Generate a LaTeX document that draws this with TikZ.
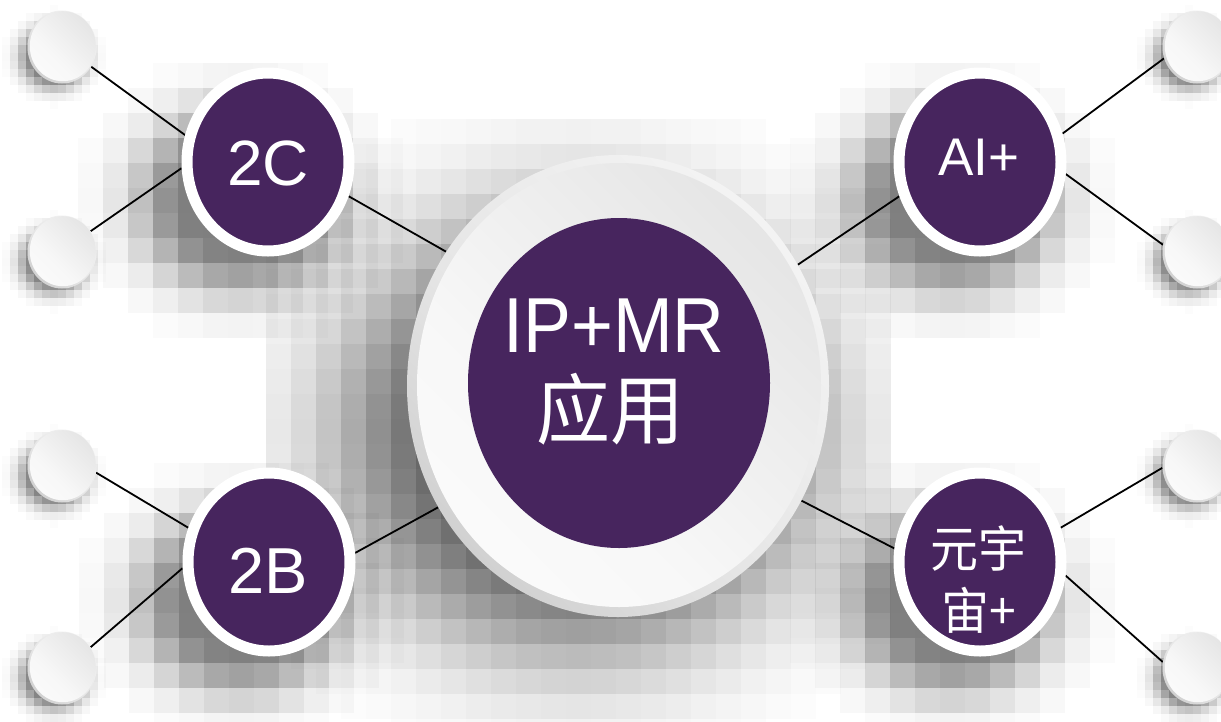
\documentclass[tikz,border=0pt]{standalone}
\usepackage{fontspec}
\setmainfont{Liberation Sans}
\newfontfamily\lat{Liberation Sans}
\newfontfamily\latn[FakeStretch=0.92]{Liberation Sans}
\newfontfamily\cjk[FakeStretch=0.96]{Noto Sans CJK SC}
\usetikzlibrary{shapes.geometric}

\definecolor{plum}{RGB}{71,37,94}

% light face of a disc: white at the bottom, grey at the top (rotated later)
\pgfdeclareverticalshading{faceshade}{100bp}{color(0bp)=(white); color(40bp)=(white!97!black); color(75bp)=(white!90!black); color(100bp)=(white!80!black)}
% rim of a disc: the reverse gradient
\pgfdeclareverticalshading{rimshade}{100bp}{color(0bp)=(white!72!black); color(45bp)=(white!90!black); color(100bp)=(white)}

\pgfdeclarelayer{shadow}
\pgfdeclarelayer{wires}
\pgfsetlayers{shadow,wires,main}

% blocky soft shadow: centre (#1,#2), radii (#3,#4), block size #5,
% half count of blocks #6, peak opacity #7, spread #8
\newcommand\mosaic[8]{%
  \foreach \i in {-#6,...,#6}{%
    \foreach \j in {-#6,...,#6}{%
      \pgfmathsetmacro\ax{\i*#5/#3}%
      \pgfmathsetmacro\ay{\j*#5/#4}%
      \pgfmathsetmacro\dd{max(0,sqrt(\ax*\ax+\ay*\ay)-0.55)/#8}%
      \pgfmathsetmacro\op{#7*exp(-min(\dd*\dd,16))}%
      \ifdim\op pt>0.012pt
        \fill[black,opacity=\op] ({#1+\i*#5-#5/2},{#2+\j*#5-#5/2}) rectangle ++(#5,#5);
      \fi
    }%
  }%
}

\tikzset{
  ring/.style={ellipse, draw=white, line width=11pt, fill=plum,
    minimum width=162pt, minimum height=178pt, inner sep=0pt},
  ballrim/.style={ellipse, shade, shading=rimshade, shading angle=-45,
    minimum width=69pt, minimum height=73pt, inner sep=0pt},
  ballface/.style={ellipse, shade, shading=faceshade, shading angle=-45,
    minimum width=66pt, minimum height=70pt, inner sep=0pt},
  wire/.style={draw=black, line width=1.8pt},
  lbl/.style={text=white, inner sep=0pt, anchor=base},
}

\begin{document}
\begin{tikzpicture}[x=1pt,y=-1pt]
\useasboundingbox (0,0) rectangle (1221,721);

\begin{pgfonlayer}{shadow}
  \fill[white] (0,0) rectangle (1221,721);
  % central plate
  \mosaic{578}{431}{228}{213}{25}{12}{0.62}{0.55}
  % four purple discs
  \mosaic{240}{200}{95}{85}{25}{7}{0.5}{0.6}
  \mosaic{952}{200}{95}{85}{25}{7}{0.5}{0.6}
  \mosaic{241}{600}{95}{85}{25}{7}{0.5}{0.6}
  \mosaic{952}{600}{95}{85}{25}{7}{0.5}{0.6}
  % eight small balls
  \mosaic{54}{57}{36}{34}{8}{8}{0.5}{0.45}
  \mosaic{54}{262}{36}{34}{8}{8}{0.5}{0.45}
  \mosaic{54}{476}{36}{34}{8}{8}{0.5}{0.45}
  \mosaic{54}{678}{36}{34}{8}{8}{0.5}{0.45}
  \mosaic{1189}{57}{36}{34}{8}{8}{0.5}{0.45}
  \mosaic{1189}{262}{36}{34}{8}{8}{0.5}{0.45}
  \mosaic{1189}{476}{36}{34}{8}{8}{0.5}{0.45}
  \mosaic{1189}{678}{36}{34}{8}{8}{0.5}{0.45}
\end{pgfonlayer}

% central plate
\node[ellipse, shade, shading=rimshade, shading angle=-45, minimum width=422pt,
  minimum height=462pt, inner sep=0pt] (plate) at (618,386) {};
\node[ellipse, shade, shading=faceshade, shading angle=-45, minimum width=404pt,
  minimum height=444pt, inner sep=0pt] (face) at (619,385) {};
\node[ellipse, fill=plum, minimum width=302pt, minimum height=330pt,
  inner sep=0pt] (hub) at (619,383) {};
\node[lbl, font=\latn\fontsize{78}{78}\selectfont] (tip) at (614,352) {IP+MR};
\node[lbl, font=\cjk\fontsize{77}{77}\selectfont] (tapp) at (610,438) {应用};

% purple discs
\node[ring] (c2c) at (268,162) {};
\node[ring] (cai) at (980,162) {};
\node[ring] (c2b) at (269,562) {};
\node[ring] (cyz) at (980,562) {};
\node[lbl, font=\lat\fontsize{64}{64}\selectfont] (t2c) at (268,185) {2C};
\node[lbl, font=\lat\fontsize{53}{53}\selectfont] (tai) at (979,175) {AI+};
\node[lbl, font=\lat\fontsize{65}{65}\selectfont] (t2b) at (268,593) {2B};
\node[lbl, font=\cjk\fontsize{50}{50}\selectfont] (tyz1) at (978,567) {元宇};
\node[lbl, font=\cjk\fontsize{50}{50}\selectfont] (tyz2) at (979,629) {宙+};

% small balls
\foreach \n/\x/\y in {b1/62/47, b2/62/252, b3/62/466, b4/62/668,
                      b5/1197/47, b6/1197/252, b7/1197/466, b8/1197/668}{
  \node[ballrim] (\n) at (\x,\y) {};
  \node[ballface] (\n f) at ([shift={(0.8,-0.8)}]\n.center) {};
}

\begin{pgfonlayer}{wires}
  \draw[wire] (b1.-34) -- (c2c.162);
  \draw[wire] (b2.36) -- (c2c.184);
  \draw[wire] (c2c.-23) -- (plate.142.7);
  \draw[wire] (b3.-11) -- (c2b.157.5);
  \draw[wire] (b4.36) -- (c2b.184);
  \draw[wire] (c2b.6.5) -- (plate.214.7);
  \draw[wire] (cai.203) -- (plate.34.9);
  \draw[wire] (cai.19) -- (b5.199);
  \draw[wire] (cai.-8.5) -- (b6.168);
  \draw[wire] (cyz.171) -- (plate.-32);
  \draw[wire] (cyz.23) -- (b7.183);
  \draw[wire] (cyz.-9) -- (b8.170);
\end{pgfonlayer}
\end{tikzpicture}
\end{document}
